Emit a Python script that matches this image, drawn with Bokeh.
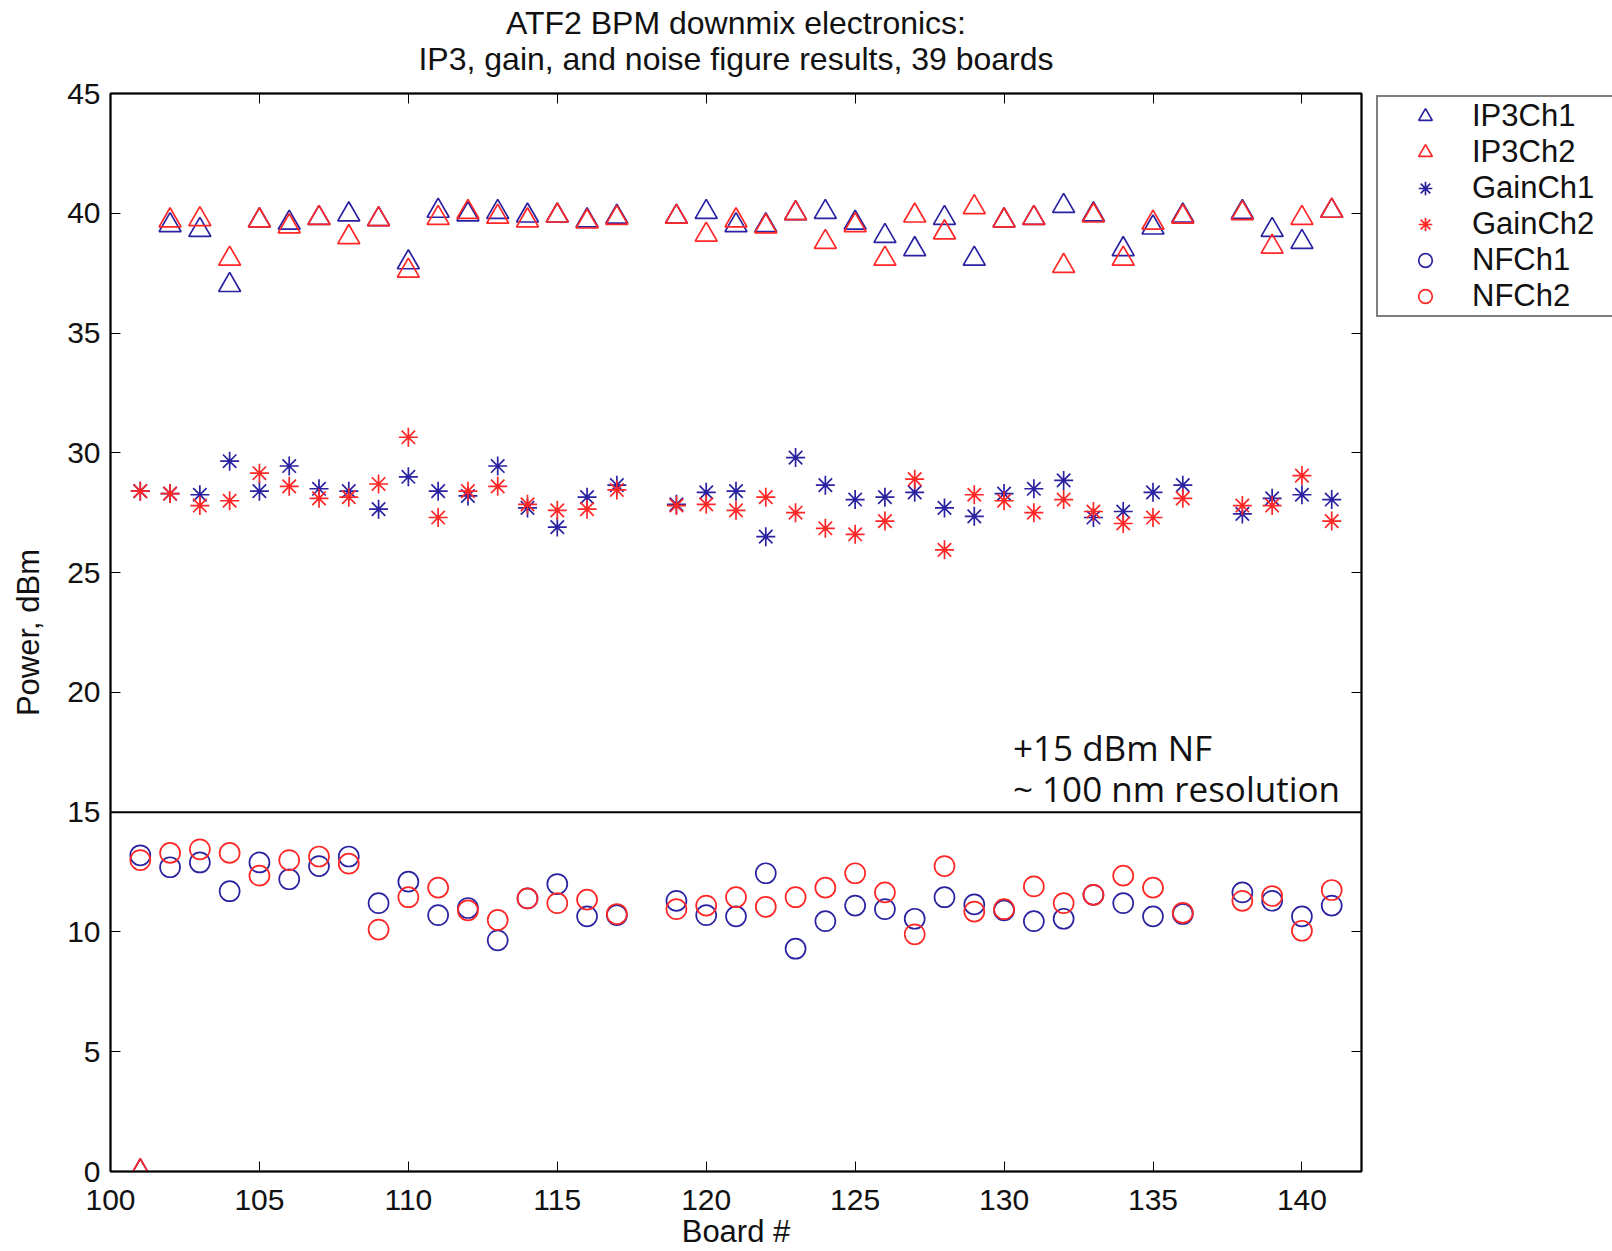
from bokeh.plotting import figure
from bokeh.layouts import column, row
from bokeh.models import Range1d, LinearAxis, FixedTicker, Span, Label, Legend, LegendItem
from bokeh.embed import file_html
from bokeh.resources import INLINE

boards = [101, 102, 103, 104, 105, 106, 107, 108, 109, 110, 111, 112, 113, 114, 115, 116, 117,
          119, 120, 121, 122, 123, 124, 125, 126, 127, 128, 129, 130, 131, 132, 133, 134, 135, 136,
          138, 139, 140, 141]

ip3_ch1 = [0.0, 39.5, 39.3, 37.0, 39.7, 39.6, 39.8, 39.95, 39.75, 37.95, 40.1, 39.95, 40.05, 39.9, 39.9, 39.7, 39.85,
           39.85, 40.05, 39.5, 39.5, 40.0, 40.05, 39.6, 39.05, 38.5, 39.8, 38.1, 39.7, 39.8, 40.3, 39.95, 38.5, 39.4, 39.9,
           40.05, 39.3, 38.8, 40.1]
ip3_ch2 = [0.0, 39.7, 39.75, 38.1, 39.7, 39.45, 39.8, 39.0, 39.75, 37.6, 39.8, 40.05, 39.85, 39.7, 39.9, 39.65, 39.8,
           39.85, 39.1, 39.7, 39.45, 40.0, 38.8, 39.5, 38.1, 39.9, 39.2, 40.25, 39.7, 39.8, 37.8, 39.9, 38.1, 39.6, 39.85,
           40.0, 38.6, 39.8, 40.1]
gain_ch1 = [28.4, 28.3, 28.25, 29.65, 28.4, 29.45, 28.5, 28.4, 27.65, 29.0, 28.4, 28.2, 29.45, 27.7, 26.9, 28.15, 28.65,
            27.85, 28.35, 28.4, 26.5, 29.8, 28.65, 28.05, 28.15, 28.35, 27.7, 27.35, 28.3, 28.5, 28.85, 27.3, 27.55, 28.35, 28.65,
            27.45, 28.1, 28.25, 28.05]
gain_ch2 = [28.4, 28.3, 27.8, 28.0, 29.15, 28.6, 28.1, 28.15, 28.7, 30.65, 27.3, 28.4, 28.6, 27.85, 27.6, 27.65, 28.45,
            27.8, 27.85, 27.6, 28.15, 27.5, 26.85, 26.6, 27.15, 28.9, 25.95, 28.25, 28.0, 27.5, 28.05, 27.55, 27.05, 27.3, 28.1,
            27.8, 27.8, 29.05, 27.15]
nf_ch1 = [13.2, 12.7, 12.9, 11.7, 12.9, 12.2, 12.75, 13.15, 11.2, 12.1, 10.7, 11.0, 9.65, 11.4, 12.0, 10.65, 10.7,
          11.3, 10.7, 10.65, 12.45, 9.3, 10.45, 11.1, 10.95, 10.55, 11.45, 11.15, 10.9, 10.45, 10.55, 11.55, 11.2, 10.65, 10.75,
          11.65, 11.3, 10.65, 11.1]
nf_ch2 = [13.0, 13.3, 13.45, 13.3, 12.35, 13.0, 13.15, 12.85, 10.1, 11.45, 11.85, 10.9, 10.5, 11.4, 11.2, 11.35, 10.75,
          10.95, 11.1, 11.45, 11.05, 11.45, 11.85, 12.45, 11.65, 9.9, 12.75, 10.85, 10.95, 11.9, 11.2, 11.55, 12.35, 11.85, 10.8,
          11.3, 11.5, 10.05, 11.75]

series_names = ["IP3Ch1", "IP3Ch2", "GainCh1", "GainCh2", "NFCh1", "NFCh2"]

x_ticks = [100, 105, 110, 115, 120, 125, 130, 135, 140]
y_ticks = [0, 5, 10, 15, 20, 25, 30, 35, 40, 45]

title_line1 = "ATF2 BPM downmix electronics:"
title_line2 = "IP3, gain, and noise figure results, 39 boards"
note_line1 = "+15 dBm NF"
note_line2 = "~ 100 nm resolution"

BLUE = "#2a22a0"
RED = "#ff2626"
FONT = "Liberation Sans"
TEXT = "#111111"

W, H = 1612, 1251
H_TITLE = 77
W_MAIN = 1374

# ---------- title strip ----------
tf = figure(width=W, height=H_TITLE, output_backend="svg", toolbar_location=None,
            x_range=Range1d(0, 1), y_range=Range1d(0, 1), x_axis_type=None, y_axis_type=None,
            min_border=0)
tf.outline_line_color = None
tf.grid.visible = False
tf.border_fill_color = "white"
tf.background_fill_color = "white"
tf.add_layout(Label(x=735.5, y=H_TITLE - 22.5, x_units="screen", y_units="screen", text=title_line1,
                    text_font=FONT, text_font_size="32px", text_align="center", text_baseline="middle",
                    text_color=TEXT))
tf.add_layout(Label(x=735.5, y=H_TITLE - 58.5, x_units="screen", y_units="screen", text=title_line2,
                    text_font=FONT, text_font_size="32px", text_align="center", text_baseline="middle",
                    text_color=TEXT))

# ---------- main plot ----------
p = figure(width=W_MAIN, height=H - H_TITLE, output_backend="svg", toolbar_location=None,
           x_range=Range1d(100, 142), y_range=Range1d(0, 45),
           min_border_left=110, min_border_right=W_MAIN - 1361, min_border_top=16,
           min_border_bottom=79)
p.background_fill_color = "white"
p.border_fill_color = "white"
p.grid.visible = False
p.outline_line_color = "black"
p.outline_line_width = 2

def style_axis(ax):
    ax.major_tick_in = 10
    ax.major_tick_out = 0
    ax.minor_tick_in = 0
    ax.minor_tick_out = 0
    ax.axis_line_color = "black"
    ax.axis_line_width = 1.5
    ax.major_tick_line_color = "black"
    ax.major_tick_line_width = 1
    ax.major_label_text_font = FONT
    ax.major_label_text_font_size = "30px"
    ax.major_label_text_color = TEXT
    ax.axis_label_text_font = FONT
    ax.axis_label_text_font_size = "31px"
    ax.axis_label_text_font_style = "normal"
    ax.axis_label_text_color = TEXT

p.xaxis.ticker = FixedTicker(ticks=x_ticks)
p.yaxis.ticker = FixedTicker(ticks=y_ticks)
style_axis(p.xaxis[0])
style_axis(p.yaxis[0])
p.xaxis.axis_label = "Board #"
p.yaxis.axis_label = "Power, dBm"
p.xaxis.major_label_standoff = 18
p.xaxis.axis_label_standoff = 1
p.yaxis.major_label_standoff = 10
p.yaxis.axis_label_standoff = 18

top_ax = LinearAxis(ticker=FixedTicker(ticks=x_ticks))
style_axis(top_ax)
top_ax.major_label_overrides = {t: "" for t in x_ticks}
top_ax.major_label_standoff = 0
p.add_layout(top_ax, "above")
right_ax = LinearAxis(ticker=FixedTicker(ticks=y_ticks))
style_axis(right_ax)
right_ax.major_label_overrides = {t: "" for t in y_ticks}
right_ax.major_label_standoff = 0
p.add_layout(right_ax, "right")

lw = 1.7
series = [(ip3_ch1, "triangle", BLUE, 22), (ip3_ch2, "triangle", RED, 22),
          (gain_ch1, "asterisk", BLUE, 19), (gain_ch2, "asterisk", RED, 19),
          (nf_ch1, "circle", BLUE, 20), (nf_ch2, "circle", RED, 20)]
for vals, mk, col, sz in series:
    p.scatter(boards, vals, marker=mk, size=sz, fill_color=None, line_color=col, line_width=lw)

p.add_layout(Span(location=15, dimension="width", line_color="black", line_width=2))

p.add_layout(Label(x=130.3, y=17.7, text=note_line1, text_font="Open Sans", text_font_size="35px",
                   text_baseline="middle", text_color=TEXT))
p.add_layout(Label(x=130.3, y=16.0, text=note_line2, text_font="Open Sans", text_font_size="35px",
                   text_baseline="middle", text_color=TEXT))

# ---------- legend panel (same series, ranges keep the points out of view) ----------
lf = figure(width=W - W_MAIN, height=H - H_TITLE, output_backend="svg", toolbar_location=None,
            x_range=Range1d(0, 1), y_range=Range1d(0, 1), x_axis_type=None, y_axis_type=None,
            min_border=0, min_border_top=12)
lf.outline_line_color = None
lf.grid.visible = False
lf.border_fill_color = "white"
lf.background_fill_color = "white"
items = []
for name, (vals, mk, col, sz) in zip(series_names, series):
    r = lf.scatter(boards, vals, marker=mk, size=sz, fill_color=None, line_color=col, line_width=lw)
    items.append(LegendItem(label=name, renderers=[r]))

legend = Legend(items=items, location="top_left")
legend.label_text_font = FONT
legend.label_text_font_size = "31px"
legend.label_text_color = TEXT
legend.label_height = 34
legend.label_width = 139
legend.glyph_height = 34
legend.glyph_width = 92
legend.label_standoff = 1
legend.padding = 1
legend.spacing = 0
legend.margin = 2
legend.border_line_color = "black"
legend.border_line_width = 2
legend.background_fill_color = "white"
legend.background_fill_alpha = 1.0
lf.add_layout(legend)

layout = column(tf, row(p, lf, spacing=0), spacing=0)
open("out.html", "w").write(file_html(layout, INLINE))
